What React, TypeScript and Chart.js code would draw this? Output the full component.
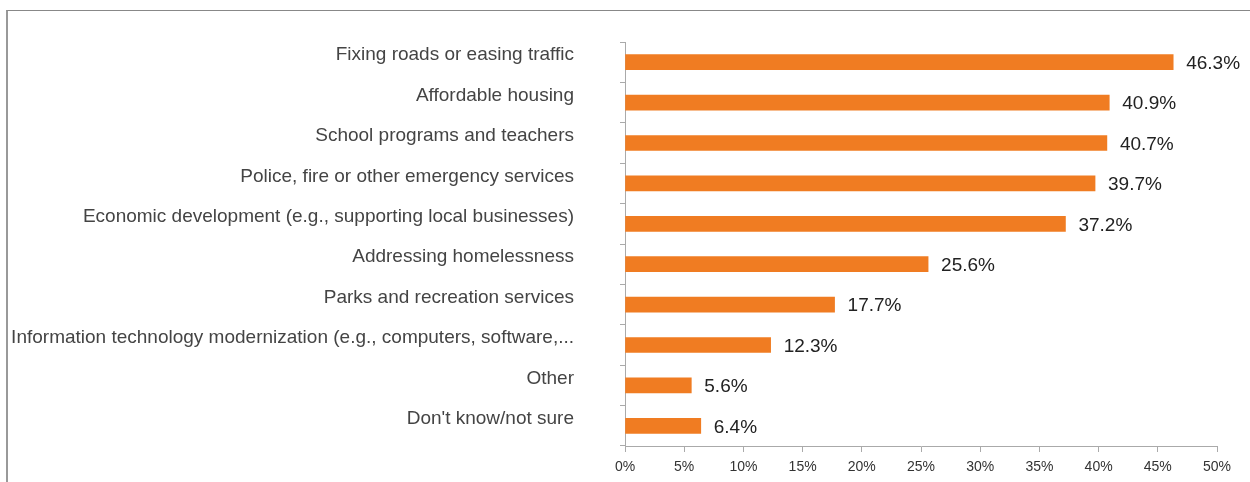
import React, { useEffect, useRef } from "react";
import { Chart, registerables } from "chart.js";

Chart.register(...registerables);

const categories = [
  "Fixing roads or easing traffic",
  "Affordable housing",
  "School programs and teachers",
  "Police, fire or other emergency services",
  "Economic development (e.g., supporting local businesses)",
  "Addressing homelessness",
  "Parks and recreation services",
  "Information technology modernization (e.g., computers, software,...",
  "Other",
  "Don't know/not sure",
];
const values = [46.3, 40.9, 40.7, 39.7, 37.2, 25.6, 17.7, 12.3, 5.6, 6.4];
const xTicks = [0, 5, 10, 15, 20, 25, 30, 35, 40, 45, 50];

const FONT = "'Liberation Sans', Arial, Helvetica, sans-serif";

const valueLabels = {
  id: "valueLabels",
  afterDatasetsDraw(chart: any) {
    const ctx = chart.ctx;
    const meta = chart.getDatasetMeta(0);
    ctx.save();
    ctx.font = `19px ${FONT}`;
    ctx.fillStyle = "#222";
    ctx.textAlign = "left";
    ctx.textBaseline = "middle";
    meta.data.forEach((bar: any, i: number) => {
      ctx.fillText(`${values[i].toFixed(1)}%`, bar.x + 13, bar.y + 1.5);
    });
    ctx.restore();
  },
};

export default function App() {
  const ref = useRef<HTMLCanvasElement | null>(null);
  useEffect(() => {
    if (!ref.current) return;
    const chart = new Chart(ref.current, {
      type: "bar",
      data: {
        labels: categories,
        datasets: [
          {
            data: values,
            backgroundColor: "#F07C22",
            borderWidth: 0,
            barThickness: 15,
          },
        ],
      },
      plugins: [valueLabels],
      options: {
        indexAxis: "y",
        animation: false,
        responsive: false,
        maintainAspectRatio: false,
        layout: { padding: { top: 42, right: 33, left: 0, bottom: 0 } },
        plugins: {
          legend: { display: false },
          tooltip: { enabled: false },
        },
        scales: {
          x: {
            min: 0,
            max: 50,
            afterBuildTicks(scale: any) {
              scale.ticks = xTicks.map((v) => ({ value: v }));
            },
            afterFit(scale: any) {
              scale.height = 36;
            },
            ticks: {
              callback: (v: any) => `${v}%`,
              color: "#333",
              font: { size: 14, family: FONT },
              padding: 7,
              maxRotation: 0,
            },
            grid: {
              drawOnChartArea: false,
              drawTicks: true,
              tickLength: 6,
              color: "#aaa",
            },
            border: { color: "#aaa", width: 1 },
          },
          y: {
            afterFit(scale: any) {
              scale.width = 625;
              scale.paddingTop = 0;
              scale.paddingBottom = 0;
            },
            ticks: {
              color: "#444",
              font: { size: 19, family: FONT },
              padding: 46,
              labelOffset: -7,
              autoSkip: false,
            },
            grid: {
              offset: true,
              drawOnChartArea: false,
              drawTicks: true,
              tickLength: 5,
              color: "#aaa",
            },
            border: { color: "#aaa", width: 1 },
          },
        },
      },
    });
    return () => chart.destroy();
  }, []);

  return (
    <div style={{ position: "absolute", left: 0, top: 0, width: 1250, height: 482, background: "#fff", overflow: "hidden" }}>
      <div
        style={{
          position: "absolute",
          left: 6,
          top: 10,
          width: 1300,
          height: 600,
          borderTop: "1px solid #888",
          borderLeft: "2px solid #999",
        }}
      />
      <canvas ref={ref} width={1250} height={482} style={{ position: "absolute", left: 0, top: 0, width: 1250, height: 482 }} />
    </div>
  );
}
